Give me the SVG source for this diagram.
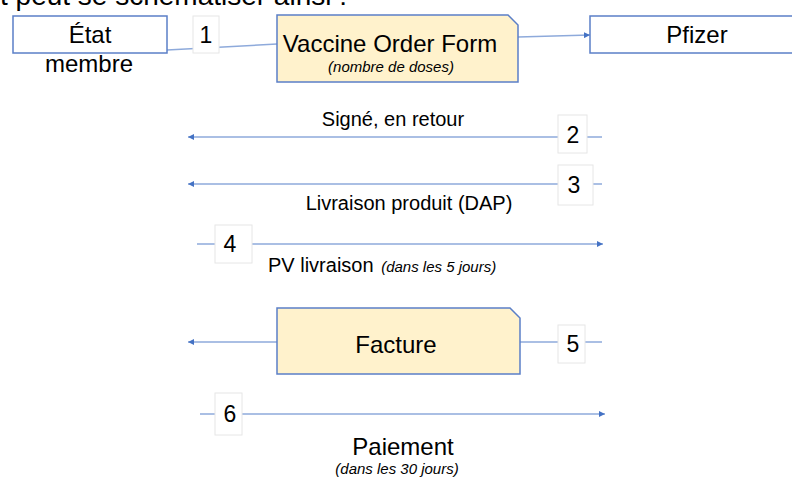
<svg xmlns="http://www.w3.org/2000/svg" width="792" height="477" viewBox="0 0 792 477">
<style>
  text { font-family: "Liberation Sans", Arial, sans-serif; fill: #000; }
  .node { fill: #ffffff; stroke: #5b7fc7; stroke-width: 1.5; }
  .doc { fill: #fff2cc; stroke: #5b7fc7; stroke-width: 1.5; }
  .lbl { fill: #ffffff; stroke: #e6e6e6; stroke-width: 1; }
  .conn { stroke: #8eaadb; stroke-width: 1.5; fill: none; }
  .big { font-size: 24px; }
  .mid { font-size: 20px; }
  .num { font-size: 23px; }
  .it { font-size: 15px; font-style: italic; }
</style>
<defs>
  <marker id="ah" viewBox="0 0 10 10" refX="10" refY="5" markerWidth="6" markerHeight="6" orient="auto" markerUnits="userSpaceOnUse">
    <path d="M0,0 L10,5 L0,10 z" fill="#4472c4"/>
  </marker>
</defs>
<rect width="792" height="477" fill="#ffffff"/>

<text x="0" y="5" font-size="27" font-family="'Open Sans', 'Liberation Sans', sans-serif" textLength="347" lengthAdjust="spacingAndGlyphs">t peut se schématiser ainsi :</text>

<g id="connectors">
  <line class="conn" x1="167" y1="50" x2="277" y2="44"/>
  <line class="conn" x1="518" y1="37" x2="590" y2="35" marker-end="url(#ah)"/>
  <line class="conn" x1="602" y1="137" x2="188" y2="137" marker-end="url(#ah)"/>
  <line class="conn" x1="602" y1="184" x2="188" y2="184" marker-end="url(#ah)"/>
  <line class="conn" x1="197" y1="244" x2="603" y2="244" marker-end="url(#ah)"/>
  <line class="conn" x1="602" y1="342" x2="188" y2="342" marker-end="url(#ah)"/>
  <line class="conn" x1="200" y1="414" x2="605" y2="414" marker-end="url(#ah)"/>
</g>

<g id="etat-membre">
  <rect class="node" x="13" y="16" width="154" height="37"/>
  <text class="big" x="90" y="43" text-anchor="middle">État</text>
  <text class="big" x="89" y="72" text-anchor="middle">membre</text>
</g>

<g id="vaccine-order-form">
  <path class="doc" d="M277,15 L508,15 L518,25 L518,82 L277,82 Z"/>
  <text class="big" x="390" y="52" text-anchor="middle">Vaccine Order Form</text>
  <text class="it" x="391" y="72" text-anchor="middle">(nombre de doses)</text>
</g>

<g id="pfizer">
  <rect class="node" x="590" y="16" width="210" height="37"/>
  <text class="big" x="697" y="43" text-anchor="middle">Pfizer</text>
</g>

<g id="facture">
  <path class="doc" d="M277,308 L510,308 L520,318 L520,374 L277,374 Z"/>
  <text class="big" x="396" y="353" text-anchor="middle">Facture</text>
</g>

<g id="step1">
  <rect class="lbl" x="193" y="16" width="26" height="37"/>
  <text class="num" x="206" y="43" text-anchor="middle">1</text>
</g>

<g id="step2">
  <rect class="lbl" x="558" y="115" width="29" height="38"/>
  <text class="num" x="573" y="143" text-anchor="middle">2</text>
  <text class="mid" x="393" y="126" text-anchor="middle">Signé, en retour</text>
</g>

<g id="step3">
  <rect class="lbl" x="558" y="165" width="35" height="40"/>
  <text class="num" x="574" y="193" text-anchor="middle">3</text>
  <text class="mid" x="409" y="210" text-anchor="middle">Livraison produit (DAP)</text>
</g>

<g id="step4">
  <rect class="lbl" x="215" y="225" width="37" height="38"/>
  <text class="num" x="230" y="252" text-anchor="middle">4</text>
  <text class="mid" x="268" y="272">PV livraison <tspan class="it" dx="2">(dans les 5 jours)</tspan></text>
</g>

<g id="step5">
  <rect class="lbl" x="558" y="325" width="27" height="38"/>
  <text class="num" x="573" y="352" text-anchor="middle">5</text>
</g>

<g id="step6">
  <rect class="lbl" x="215" y="393" width="27" height="42"/>
  <text class="num" x="230" y="422" text-anchor="middle">6</text>
  <text class="big" x="403" y="455" text-anchor="middle">Paiement</text>
  <text class="it" x="397" y="474" text-anchor="middle">(dans les 30 jours)</text>
</g>
</svg>
